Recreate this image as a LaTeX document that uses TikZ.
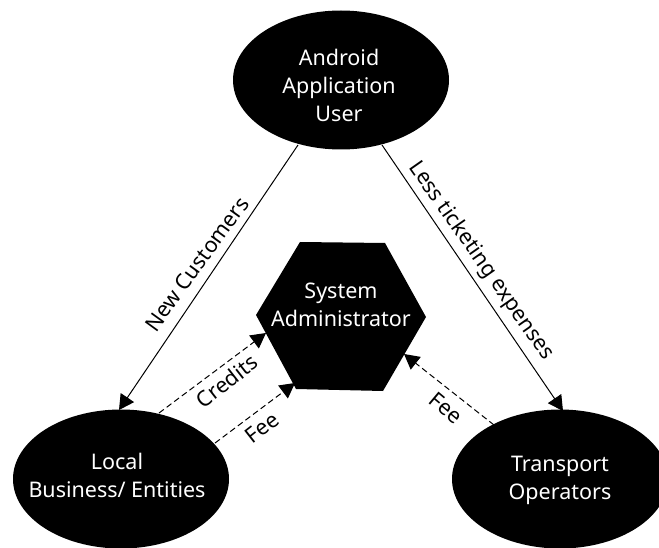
\documentclass[tikz,border=0pt]{standalone}
\usepackage{fontspec}
\setmainfont{Noto Sans}
\usetikzlibrary{arrows.meta,shapes.geometric}
\tikzset{
 blob/.style={ellipse,fill=black,inner sep=0pt},
 blobtext/.style={font=\fontsize{21.5}{28}\selectfont,text=white,align=center,inner sep=0pt},
 lab/.style={font=\fontsize{21.5}{26}\selectfont,inner sep=0pt},
 solidarrow/.style={-{Triangle[length=15pt,width=16pt]},line width=1pt},
 dasharrow/.style={-{Triangle[length=15pt,width=16pt]},line width=1pt,dash pattern=on 6pt off 3.5pt},
}
\begin{document}
\begin{tikzpicture}[x=1pt,y=-1pt]
\useasboundingbox (0,0) rectangle (659,548);
\fill[white] (0,0) rectangle (659,548);
\node[blob,minimum width=216pt,minimum height=139pt] (user) at (341,80) {};
\node[blob,minimum width=216pt,minimum height=139pt] (biz) at (121,479) {};
\node[blob,minimum width=216pt,minimum height=139pt] (ops) at (560,479) {};
\node[blobtext] (usert) at (339,85) {Android\\Application\\User};
\node[blobtext] (bizt) at (117,475) {Local\\Business/ Entities};
\node[blobtext] (opst) at (560,480) {Transport\\Operators};
\fill (300,242) -- (385,243) -- (426,317) -- (383,391) -- (296,389) -- (256,315) -- cycle;
\node[blobtext] (adm) at (341,305) {System\\Administrator};
\coordinate (u1) at (298,145);
\coordinate (b1) at (119,410);
\coordinate (u2) at (382,145);
\coordinate (o1) at (563,411);
\coordinate (h1) at (266,333);
\coordinate (h2) at (295,383);
\coordinate (h3) at (404,354);
\coordinate (b2) at (159,413);
\coordinate (b3) at (215,443);
\coordinate (o2) at (494,425);
\draw[solidarrow] (u1) -- (b1);
\draw[solidarrow] (u2) -- (o1);
\draw[dasharrow] (b2) -- (h1);
\draw[dasharrow] (b3) -- (h2);
\draw[dasharrow] (o2) -- (h3);
\node[lab,rotate=54] (l1) at (197,264) {New Customers};
\node[lab,rotate=-55] (l2) at (481,261) {Less ticketing expenses};
\node[lab,rotate=38] (l3) at (227,381) {Credits};
\node[lab,rotate=38] (l4) at (262,428) {Fee};
\node[lab,rotate=-40] (l5) at (446,408) {Fee};
\end{tikzpicture}
\end{document}
